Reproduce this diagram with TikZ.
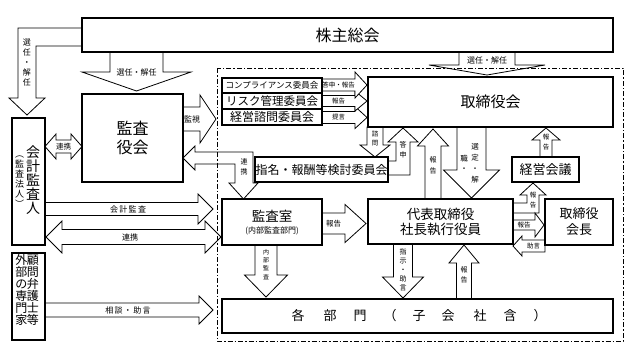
\documentclass[tikz,border=0pt]{standalone}
\usepackage{fontspec}
\setmainfont{Noto Sans CJK JP}
\newcommand\myfs[2]{\fontsize{#1}{#2}\selectfont}
\newcommand\VArrow[6]{\draw[blk] ({#1-#5},#2) -- ({#1-#5},#3) -- ({#1-#6},#3) -- (#1,#4) -- ({#1+#6},#3) -- ({#1+#5},#3) -- ({#1+#5},#2) -- cycle;}
\newcommand\HArrow[6]{\draw[blk] (#2,{#1-#5}) -- (#3,{#1-#5}) -- (#3,{#1-#6}) -- (#4,#1) -- (#3,{#1+#6}) -- (#3,{#1+#5}) -- (#2,{#1+#5}) -- cycle;}
\newcommand\HDArrow[7]{\draw[blk] (#2,#1) -- (#3,{#1-#7}) -- (#3,{#1-#6}) -- (#4,{#1-#6}) -- (#4,{#1-#7}) -- (#5,#1) -- (#4,{#1+#7}) -- (#4,{#1+#6}) -- (#3,{#1+#6}) -- (#3,{#1+#7}) -- cycle;}
\tikzset{
  box/.style={draw, line width=1.3pt, fill=white, inner sep=0pt, align=center},
  blk/.style={draw, line width=0.8pt, fill=white, line join=miter},
  lbl/.style={inner sep=0pt, align=center},
  bnd/.style={draw, line width=1pt, dash pattern=on 5pt off 2pt on 1.5pt off 2pt}
}
\begin{document}
\begin{tikzpicture}[x=1pt,y=-1pt]
\useasboundingbox[fill=white] (0,0) rectangle (640,351);
% ---- arrows ----
\draw[blk] (82,28) -- (18,28) -- (18,98) -- (9,98) -- (27,115) -- (45,98) -- (36,98) -- (36,46) -- (82,46) -- cycle;
\VArrow{136.5}{52}{72}{91}{26.5}{54.5}
\VArrow{487}{52}{65}{75}{28}{58}
\HArrow{119}{183}{200}{216}{12}{24}
\HDArrow{146.5}{45}{56}{71}{82}{6.5}{12.5}
\draw[blk] (183,158) -- (195,146) -- (195,152) -- (253,152) -- (253,183) -- (258,183) -- (243.5,199) -- (229,183) -- (235,183) -- (235,164) -- (195,164) -- (195,170) -- cycle;
\HArrow{117.5}{322}{355}{367}{6}{11}
\HArrow{101}{322}{355}{367}{5.5}{10}
\HArrow{85}{322}{355}{367}{6}{13}
\VArrow{375}{127}{145}{157}{8}{15}
\draw[blk] (388,161) -- (396,161) -- (396,142) -- (388,142) -- (403,128) -- (418,142) -- (410,142) -- (410,175) -- (388,175) -- cycle;
\VArrow{433}{199}{146}{129}{8}{15.5}
\VArrow{471.5}{127}{170}{198}{14.5}{28}
\VArrow{546}{157}{140}{128}{6}{14}
\draw[blk] (513,203) -- (527,203) -- (527,195) -- (520,195) -- (533,183) -- (546,195) -- (539,195) -- (539,213) -- (513,213) -- cycle;
\HArrow{225}{513}{535}{544}{5}{12}
\HArrow{246}{545}{522}{513}{6}{10}
\HArrow{223.5}{322}{345}{366}{10.5}{19}
\VArrow{266}{245}{275}{297}{11}{21.5}
\VArrow{403}{244}{277}{298}{9.5}{20.5}
\VArrow{464}{299}{263}{245}{7.5}{15}
\HArrow{209}{45}{198}{213}{6.5}{15}
\HDArrow{237}{46}{62}{205}{221}{7.5}{16}
\HArrow{310}{45}{199}{213}{7}{14}
% ---- boxes ----
\node[box, minimum width=531pt, minimum height=34pt, font=\myfs{16}{18}] (kabu) at (347.5,35) {株主総会};
\node[box, minimum width=101pt, minimum height=88pt, font=\myfs{16}{19}] (kansa) at (132.5,138) {監査\\役会};
\node[box, minimum width=33pt, minimum height=127pt] (kaikei) at (28.5,181.5) {};
\node[box, minimum width=33pt, minimum height=87pt] (gaibu) at (28.5,296.5) {};
\node[box, minimum width=100pt, minimum height=15pt, font=\myfs{8.5}{10}] (comp) at (272,85.5) {コンプライアンス委員会};
\node[box, minimum width=100pt, minimum height=16pt, font=\myfs{11.5}{13}] (risk) at (272,101) {リスク管理委員会};
\node[box, minimum width=100pt, minimum height=16pt, font=\myfs{12}{13}] (keiei) at (272,117) {経営諮問委員会};
\node[box, minimum width=245pt, minimum height=50pt, font=\myfs{15}{17}] (tori) at (490.5,102) {取締役会};
\node[box, minimum width=133pt, minimum height=25pt, font=\myfs{12}{14}] (shimei) at (321.5,169.5) {指名・報酬等検討委員会};
\node[box, minimum width=67pt, minimum height=25pt, font=\myfs{13}{15}] (kaigi) at (545.5,169.5) {経営会議};
\node[box, minimum width=100pt, minimum height=46pt] (shitsu) at (272,222) {};
\node[lbl, font=\myfs{13.5}{15}] (shitsuA) at (272,216.5) {監査室};
\node[lbl, font=\myfs{8}{9}] (shitsuB) at (272,231) {(内部監査部門)};
\node[box, minimum width=145pt, minimum height=45pt, font=\myfs{13.5}{15}] (daihyo) at (440.5,221.5) {代表取締役\\社長執行役員};
\node[box, minimum width=68pt, minimum height=46pt, font=\myfs{13}{16}] (kaicho) at (579,222) {取締役\\会長};
\node[box, minimum width=391pt, minimum height=34pt] (bumon) at (417.5,316) {};
\foreach \c/\xx [count=\i] in {各/298,部/330,門/360,（/390,子/419,会/448,社/480,含/510,）/540}
  \node[lbl, font=\myfs{13}{15}] (bm\i) at (\xx,316) {\c};
% ---- vertical texts in boxes ----
\node[lbl, font=\myfs{14}{14}] (kaikeiA) at (33,180) {会\\計\\監\\査\\人};
\node[lbl, font=\myfs{9}{10}] (kaikeiB) at (19.5,182) {︵\\監\\査\\法\\人\\︶};
\node[lbl, font=\myfs{12}{12}] (gaibuA) at (33,290) {顧\\問\\弁\\護\\士\\等};
\node[lbl, font=\myfs{12}{12}] (gaibuB) at (21.5,290) {外\\部\\の\\専\\門\\家};
% ---- arrow labels ----
\node[lbl, font=\myfs{8}{10}] (l1) at (27,63) {選\\任\\・\\解\\任};
\node[lbl, font=\myfs{8}{9}] (l2) at (136.5,72) {選任・解任};
\node[lbl, font=\myfs{8}{9}] (l3) at (487,60.5) {選任・解任};
\node[lbl, font=\myfs{8}{9}] (l4) at (192,119) {監視};
\node[lbl, font=\myfs{7.5}{9}] (l5) at (63.5,146.5) {連携};
\node[lbl, font=\myfs{7}{10}] (l6) at (244,167) {連\\携};
\node[lbl, font=\myfs{6.5}{8}] (l7) at (338.5,85) {答申・報告};
\node[lbl, font=\myfs{6.5}{8}] (l8) at (338.5,101) {報告};
\node[lbl, font=\myfs{6.5}{8}] (l9) at (338.5,117.5) {提言};
\node[lbl, font=\myfs{6.5}{9}] (l10) at (375,139) {諮\\問};
\node[lbl, font=\myfs{7}{10}] (l11) at (403,150) {答\\申};
\node[lbl, font=\myfs{7}{11}] (l12) at (433,165.5) {報\\告};
\node[lbl, font=\myfs{7.5}{11}] (l13a) at (475,163.5) {選\\定\\・\\解};
\node[lbl, font=\myfs{7.5}{10}] (l13b) at (464,163) {職\\・};
\node[lbl, font=\myfs{6.5}{10}] (l14) at (546,142) {報\\告};
\node[lbl, font=\myfs{6.5}{10}] (l15) at (533,200) {報\\告};
\node[lbl, font=\myfs{6.5}{8}] (l16) at (524,225) {報告};
\node[lbl, font=\myfs{6.5}{8}] (l17) at (533.5,246) {助言};
\node[lbl, font=\myfs{7.5}{9}] (l18) at (333.5,223.5) {報告};
\node[lbl, font=\myfs{6}{8.3}] (l19) at (266,264.5) {内\\部\\監\\査};
\node[lbl, font=\myfs{7}{9}] (l20) at (403,270) {指\\示\\・\\助\\言};
\node[lbl, font=\myfs{7}{10}] (l21) at (464,275) {報\\告};
\node[lbl, font=\myfs{8}{9}] (l22) at (128,209) {会\,計\,監\,査};
\node[lbl, font=\myfs{8}{9}] (l23) at (130,237) {連携};
\node[lbl, font=\myfs{8}{9}] (l24) at (128,310) {相\,談\,・\,助\,言};
% ---- boundary ----
\draw[bnd] (217,68) rectangle (623,341);
\end{tikzpicture}
\end{document}
